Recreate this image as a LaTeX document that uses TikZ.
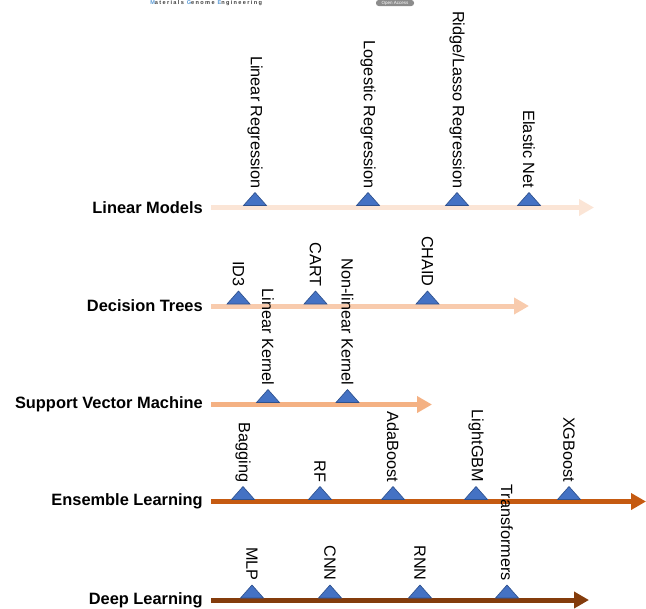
\documentclass[tikz,border=0pt]{standalone}
\usepackage{fontspec}
\setmainfont{Liberation Sans}
\usetikzlibrary{arrows.meta}

\definecolor{lmcol}{HTML}{FBE5D6}
\definecolor{dtcol}{HTML}{F8CBAD}
\definecolor{svmcol}{HTML}{F4B183}
\definecolor{elcol}{HTML}{C55A11}
\definecolor{dlcol}{HTML}{843C0C}
\definecolor{trifill}{HTML}{4472C4}
\definecolor{triline}{HTML}{2F528F}
\definecolor{hdrblue}{HTML}{5B9BD5}
\definecolor{hdrgray}{HTML}{404040}
\definecolor{oagray}{HTML}{8C8C8C}

\begin{document}
\begin{tikzpicture}[x=0.75pt,y=-0.75pt,
  cat/.style={anchor=east,inner xsep=6pt,font=\fontsize{12.3}{14}\selectfont\bfseries},
  algo/.style={rotate=-90,anchor=east,inner sep=0.75pt,font=\fontsize{12.2}{14}\selectfont},
  tri/.style={fill=trifill,draw=triline,line width=0.5pt},
  track/.style={line width=3.75pt,-{Triangle[length=11.25pt,width=12pt]}}]
\useasboundingbox (0,0) rectangle (646,608);

\node[anchor=west,inner sep=0,text=hdrgray,font=\fontsize{4.2}{4.5}\selectfont\bfseries\addfontfeature{LetterSpace=24}] (journal) at (150,3)
  {\textcolor{hdrblue}{M}aterials \textcolor{hdrblue}{G}enome \textcolor{hdrblue}{E}ngineering};
\node[fill=oagray,text=white,rounded corners=2pt,inner sep=0,minimum width=28.5pt,minimum height=4.5pt,font=\fontsize{3.4}{3.5}\selectfont] (oa) at (395,3) {Open Access};

\node[cat] (lm)  at (211,207.5) {Linear Models};
\node[cat] (dt)  at (211,306)   {Decision Trees};
\node[cat] (svm) at (211,404.5) {Support Vector Machine};
\node[cat] (el)  at (211,501.5) {Ensemble Learning};
\node[cat] (dl)  at (211,600)   {Deep Learning};

\coordinate (lmend)  at (594,207.5);
\coordinate (dtend)  at (529,306);
\coordinate (svmend) at (432,404.5);
\coordinate (elend)  at (646,501.5);
\coordinate (dlend)  at (589,600);

\draw[track,lmcol]  (lm.east)  -- (lmend);
\draw[track,dtcol]  (dt.east)  -- (dtend);
\draw[track,svmcol] (svm.east) -- (svmend);
\draw[track,elcol]  (el.east)  -- (elend);
\draw[track,dlcol]  (dl.east)  -- (dlend);

\def\ry{207.5}
\foreach \x/\t/\n in {255/Linear Regression/lr, 368/Logestic Regression/logr, 457/{Ridge/Lasso Regression}/rlr, 529/Elastic Net/en}{
  \draw[tri] (\x-11.5,\ry-2) -- (\x+11.5,\ry-2) -- (\x,\ry-15) -- cycle;
  \node[algo] (\n) at (\x,\ry-18) {\t};
}
\def\ry{306}
\foreach \x/\t/\n in {238.5/ID3/id3, 315.5/CART/cart, 427.5/CHAID/chaid}{
  \draw[tri] (\x-11.5,\ry-2) -- (\x+11.5,\ry-2) -- (\x,\ry-15) -- cycle;
  \node[algo] (\n) at (\x,\ry-18) {\t};
}
\def\ry{404.5}
\foreach \x/\t/\n in {268/Linear Kernel/link, 347.5/Non-linear Kernel/nlk}{
  \draw[tri] (\x-11.5,\ry-2) -- (\x+11.5,\ry-2) -- (\x,\ry-15) -- cycle;
  \node[algo] (\n) at (\x,\ry-18) {\t};
}
\def\ry{501.5}
\foreach \x/\t/\n in {243/Bagging/bag, 320/RF/rf, 393/AdaBoost/ada, 476/LightGBM/lgbm, 569/XGBoost/xgb}{
  \draw[tri] (\x-11.5,\ry-2) -- (\x+11.5,\ry-2) -- (\x,\ry-15) -- cycle;
  \node[algo] (\n) at (\x,\ry-18) {\t};
}
\def\ry{600}
\foreach \x/\t/\n in {252/MLP/mlp, 330/CNN/cnn, 420/RNN/rnn, 507/Transformers/trf}{
  \draw[tri] (\x-11.5,\ry-2) -- (\x+11.5,\ry-2) -- (\x,\ry-15) -- cycle;
  \node[algo] (\n) at (\x,\ry-18) {\t};
}
\end{tikzpicture}
\end{document}
